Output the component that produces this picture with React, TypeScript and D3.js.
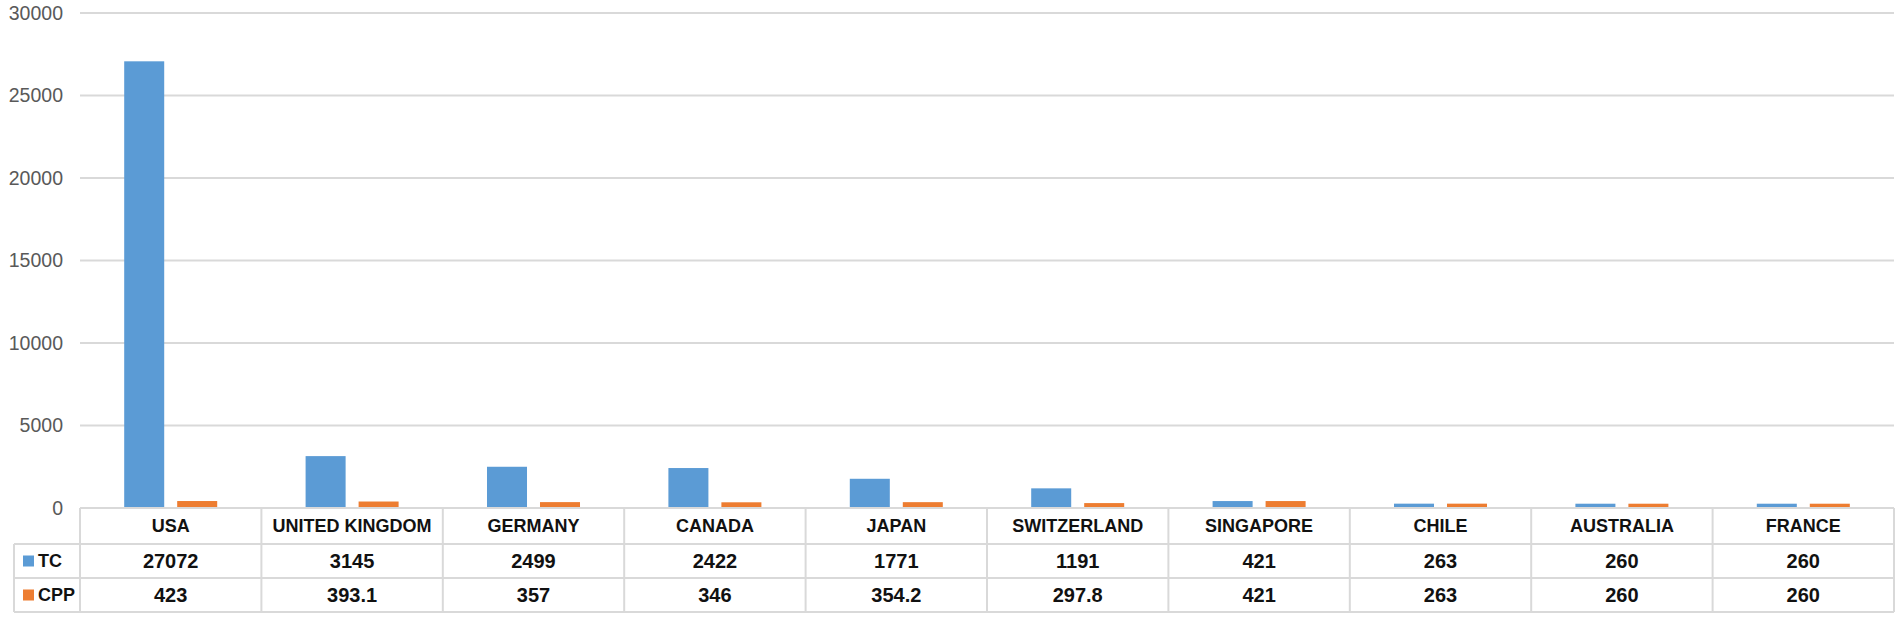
import React, { useRef, useEffect } from 'react';
import * as d3 from 'd3';

const countries = ['USA', 'UNITED KINGDOM', 'GERMANY', 'CANADA', 'JAPAN', 'SWITZERLAND', 'SINGAPORE', 'CHILE', 'AUSTRALIA', 'FRANCE'];
const tcValues = [27072, 3145, 2499, 2422, 1771, 1191, 421, 263, 260, 260];
const cppValues = [423, 393.1, 357, 346, 354.2, 297.8, 421, 263, 260, 260];
const cppLabels = ['423', '393.1', '357', '346', '354.2', '297.8', '421', '263', '260', '260'];
const seriesNames = ['TC', 'CPP'];
const yTicks = [0, 5000, 10000, 15000, 20000, 25000, 30000];

export default function App() {
  const svgRef = useRef<SVGSVGElement>(null);
  const width = 1902;
  const height = 620;

  useEffect(() => {
    const svg = d3.select(svgRef.current);
    svg.selectAll('*').remove();

    const left = 80;
    const right = 1894;
    const legendLeft = 14;
    const gridColor = '#d9d9d9';
    const colors = ['#5b9bd5', '#ed7d31'];
    const font = '"Liberation Sans", Arial, sans-serif';

    const x = d3.scaleBand<string>().domain(countries).range([left, right]).padding(0);
    const xs = d3.scaleBand<string>().domain(seriesNames).range([0, x.bandwidth()])
      .paddingInner(0.245).paddingOuter(0.834);
    const y = d3.scaleLinear().domain([0, 30000]).range([508, 13]);

    // gridlines
    svg.append('g')
      .selectAll('line')
      .data(yTicks.filter(t => t > 0))
      .enter()
      .append('line')
      .attr('x1', left)
      .attr('x2', right)
      .attr('y1', d => y(d))
      .attr('y2', d => y(d))
      .attr('stroke', gridColor)
      .attr('stroke-width', 2);

    // y labels
    svg.append('g')
      .selectAll('text')
      .data(yTicks)
      .enter()
      .append('text')
      .attr('x', 63)
      .attr('y', d => y(d))
      .attr('dy', '0.35em')
      .attr('text-anchor', 'end')
      .attr('fill', '#595959')
      .style('font-family', font)
      .style('font-size', '19.5px')
      .text(d => String(d));

    // bars
    const data = countries.map((c, i) => ({ c, vals: [tcValues[i], cppValues[i]] }));
    const groups = svg.append('g')
      .selectAll('g')
      .data(data)
      .enter()
      .append('g')
      .attr('transform', d => `translate(${x(d.c)},0)`);
    groups.selectAll('rect')
      .data(d => d.vals.map((v, k) => ({ v, k })))
      .enter()
      .append('rect')
      .attr('x', d => xs(seriesNames[d.k]) as number)
      .attr('width', xs.bandwidth())
      .attr('y', d => y(d.v))
      .attr('height', d => y(0) - y(d.v))
      .attr('fill', d => colors[d.k]);

    // data table
    const rowTop = [508, 544, 578, 612];
    const table = svg.append('g');
    const hline = (x1: number, yy: number) =>
      table.append('line').attr('x1', x1).attr('x2', right).attr('y1', yy).attr('y2', yy)
        .attr('stroke', gridColor).attr('stroke-width', 2);
    hline(left, rowTop[0]);
    hline(legendLeft, rowTop[1]);
    hline(legendLeft, rowTop[2]);
    hline(legendLeft, rowTop[3]);
    table.append('line').attr('x1', legendLeft).attr('x2', legendLeft).attr('y1', rowTop[1]).attr('y2', rowTop[3])
      .attr('stroke', gridColor).attr('stroke-width', 2);
    const vx = [...countries.map(c => x(c) as number), right];
    table.selectAll('line.v')
      .data(vx)
      .enter()
      .append('line')
      .attr('class', 'v')
      .attr('x1', d => d)
      .attr('x2', d => d)
      .attr('y1', rowTop[0])
      .attr('y2', rowTop[3])
      .attr('stroke', gridColor)
      .attr('stroke-width', 2);

    const rows = [countries, tcValues.map(String), cppLabels];
    rows.forEach((row, r) => {
      table.append('g')
        .selectAll('text')
        .data(row)
        .enter()
        .append('text')
        .attr('x', (_, i) => (x(countries[i]) as number) + x.bandwidth() / 2)
        .attr('y', (rowTop[r] + rowTop[r + 1]) / 2)
        .attr('dy', '0.36em')
        .attr('text-anchor', 'middle')
        .attr('fill', '#111')
        .style('font-family', font)
        .style('font-weight', 'bold')
        .style('font-size', r === 0 ? '18px' : '20px')
        .text(d => d);
    });

    // legend keys in table
    seriesNames.forEach((s, k) => {
      const cy = (rowTop[k + 1] + rowTop[k + 2]) / 2;
      table.append('rect')
        .attr('x', 23)
        .attr('y', cy - 5.5)
        .attr('width', 11)
        .attr('height', 11)
        .attr('fill', colors[k]);
      table.append('text')
        .attr('x', 38)
        .attr('y', cy)
        .attr('dy', '0.36em')
        .attr('fill', '#111')
        .style('font-family', font)
        .style('font-weight', 'bold')
        .style('font-size', '18px')
        .text(s);
    });
  }, []);

  return (
    <svg
      ref={svgRef}
      width={width}
      height={height}
      style={{ position: 'absolute', left: 0, top: 0, background: '#fff' }}
    />
  );
}
